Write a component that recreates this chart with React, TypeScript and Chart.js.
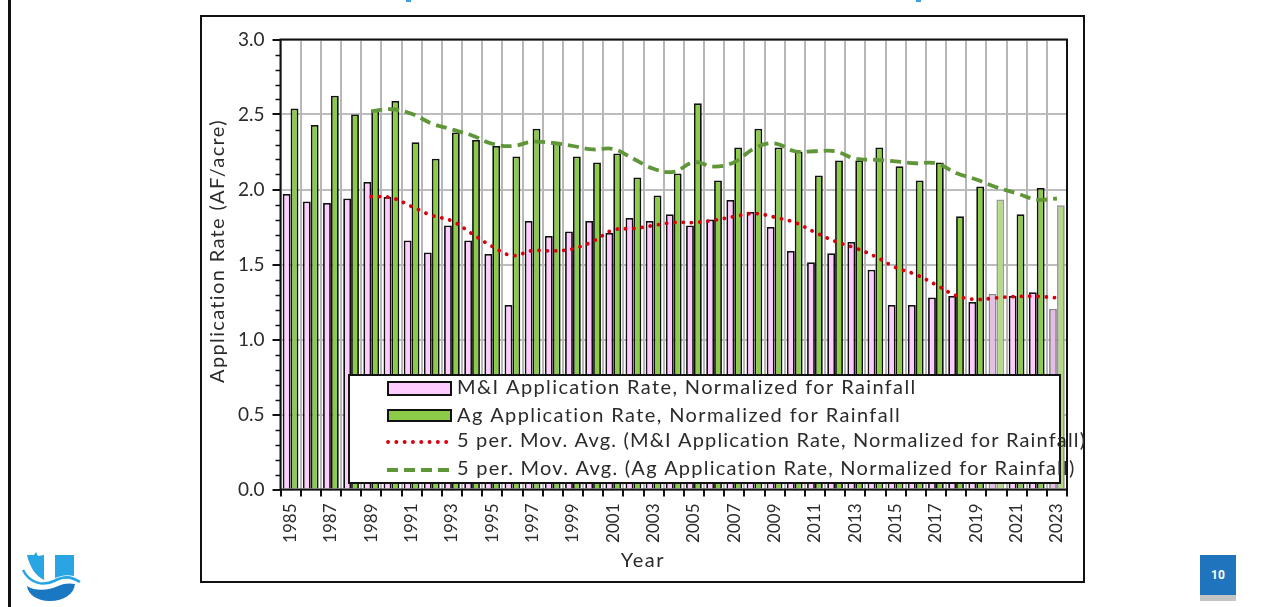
import React, { useEffect, useRef } from "react";
import { Chart, registerables } from "chart.js";

Chart.register(...registerables);

const years = [1985,1986,1987,1988,1989,1990,1991,1992,1993,1994,1995,1996,1997,1998,1999,2000,2001,2002,2003,2004,2005,2006,2007,2008,2009,2010,2011,2012,2013,2014,2015,2016,2017,2018,2019,2020,2021,2022,2023];
const miRate = [1.97,1.92,1.91,1.94,2.05,1.95,1.66,1.58,1.76,1.66,1.57,1.23,1.79,1.69,1.72,1.79,1.71,1.81,1.79,1.835,1.76,1.80,1.93,1.85,1.75,1.59,1.515,1.575,1.65,1.465,1.23,1.23,1.28,1.29,1.25,1.305,1.29,1.315,1.205];
const agRate = [2.54,2.43,2.625,2.50,2.53,2.59,2.315,2.205,2.38,2.33,2.29,2.22,2.405,2.315,2.22,2.18,2.24,2.08,1.96,2.107,2.575,2.06,2.28,2.405,2.28,2.253,2.093,2.193,2.193,2.28,2.155,2.06,2.18,1.822,2.02,1.933,1.835,2.01,1.895];
const miAvg = [null,null,null,null,1.953,1.945,1.887,1.827,1.79,1.705,1.62,1.56,1.593,1.59,1.605,1.655,1.73,1.74,1.76,1.78,1.78,1.795,1.82,1.84,1.815,1.78,1.715,1.655,1.61,1.553,1.48,1.433,1.365,1.293,1.267,1.278,1.287,1.287,1.278];
const agAvg = [null,null,null,null,2.522,2.535,2.505,2.44,2.40,2.36,2.305,2.29,2.318,2.31,2.29,2.267,2.27,2.205,2.138,2.118,2.182,2.153,2.182,2.275,2.308,2.255,2.255,2.255,2.205,2.198,2.187,2.175,2.175,2.11,2.067,2.015,1.975,1.933,1.94];
const fadedYears = [2020, 2023];
const labels = {
  mi: "M&I Application Rate, Normalized for Rainfall",
  ag: "Ag Application Rate, Normalized for Rainfall",
  miAvg: "5 per. Mov. Avg. (M&I Application Rate, Normalized for Rainfall)",
  agAvg: "5 per. Mov. Avg. (Ag Application Rate, Normalized for Rainfall)",
};
const yAxisTitle = "Application Rate (AF/acre)";
const xAxisTitle = "Year";
const pageNumber = "10";

const FONT = "Lato";
const TEXT = "#2b2b2b";
const PINK = "#ffccff";
const GREEN = "#8ccb47";
const RED = "#d8000f";
const DARKGREEN = "#5f9638";

const frameAndTicks = {
  id: "frameAndTicks",
  afterDatasetsDraw(chart: any) {
    const { ctx, chartArea: a, scales } = chart;
    ctx.save();
    ctx.strokeStyle = "#111";
    ctx.lineWidth = 2;
    ctx.strokeRect(a.left, a.top, a.right - a.left, a.bottom - a.top);
    ctx.lineWidth = 1.5;
    for (let v = 1; v < 30; v++) {
      if (v % 5 === 0) continue;
      const y = Math.round(scales.y.getPixelForValue(v / 10));
      ctx.beginPath();
      ctx.moveTo(a.left - 5, y + 0.5);
      ctx.lineTo(a.left, y + 0.5);
      ctx.stroke();
    }
    ctx.restore();
  },
};

const axisTitles = {
  id: "axisTitles",
  afterDraw(chart: any) {
    const { ctx } = chart;
    ctx.save();
    ctx.fillStyle = TEXT;
    ctx.font = `20px ${FONT}`;
    ctx.textAlign = "center";
    ctx.textBaseline = "middle";
    ctx.letterSpacing = "1.6px";
    ctx.fillText(xAxisTitle, 643, 561);
    ctx.letterSpacing = "1.35px";
    ctx.translate(218, 251);
    ctx.rotate(-Math.PI / 2);
    ctx.fillText(yAxisTitle, 0, 0);
    ctx.restore();
  },
};

const legendBox = {
  id: "legendBox",
  afterDraw(chart: any) {
    const { ctx } = chart;
    ctx.save();
    ctx.fillStyle = "#fff";
    ctx.fillRect(349, 375, 711, 108);
    ctx.strokeStyle = "#111";
    ctx.lineWidth = 2;
    ctx.strokeRect(349, 375, 711, 108);
    ctx.fillStyle = PINK;
    ctx.fillRect(388, 382, 63, 13);
    ctx.strokeRect(388, 382, 63, 13);
    ctx.fillStyle = GREEN;
    ctx.fillRect(388, 410, 63, 11);
    ctx.strokeRect(388, 410, 63, 11);
    ctx.lineCap = "round";
    ctx.strokeStyle = RED;
    ctx.lineWidth = 3.8;
    ctx.setLineDash([0.1, 8.2]);
    ctx.beginPath(); ctx.moveTo(388, 442); ctx.lineTo(451, 442); ctx.stroke();
    ctx.lineCap = "butt";
    ctx.strokeStyle = DARKGREEN;
    ctx.setLineDash([11, 6]);
    ctx.beginPath(); ctx.moveTo(387, 470); ctx.lineTo(451, 470); ctx.stroke();
    ctx.setLineDash([]);
    ctx.fillStyle = TEXT;
    ctx.font = `20px ${FONT}`;
    ctx.textBaseline = "alphabetic";
    ctx.letterSpacing = "1.38px";
    ctx.fillText(labels.mi, 457, 394);
    ctx.letterSpacing = "1.39px";
    ctx.fillText(labels.ag, 457, 422);
    ctx.letterSpacing = "1.16px";
    ctx.fillText(labels.miAvg, 457, 447);
    ctx.letterSpacing = "1.24px";
    ctx.fillText(labels.agAvg, 457, 475);
    ctx.restore();
  },
};

export default function App() {
  const ref = useRef<HTMLCanvasElement>(null);
  useEffect(() => {
    const isFaded = (i: number) => fadedYears.includes(years[i]);
    const chart = new Chart(ref.current!, {
      type: "bar",
      data: {
        labels: years.map(String),
        datasets: [
          { type: "line", label: labels.miAvg, data: miAvg, order: 0, borderColor: RED, borderWidth: 3.8, borderDash: [0.1, 8.2], borderCapStyle: "round", pointRadius: 0, tension: 0.4, fill: false },
          { type: "line", label: labels.agAvg, data: agAvg, order: 1, borderColor: DARKGREEN, borderWidth: 3.8, borderDash: [11, 6], pointRadius: 0, tension: 0.4, fill: false },
          { label: labels.mi, data: miRate, order: 2, backgroundColor: years.map((_, i) => (isFaded(i) ? "#e6bde6" : PINK)), borderColor: years.map((_, i) => (isFaded(i) ? "#8a8a8a" : "#111")), borderWidth: 1.8, barPercentage: 1, categoryPercentage: 0.78 },
          { label: labels.ag, data: agRate, order: 3, backgroundColor: years.map((_, i) => (isFaded(i) ? "#b2db82" : GREEN)), borderColor: years.map((_, i) => (isFaded(i) ? "#9a9a9a" : "#111")), borderWidth: 1.8, barPercentage: 1, categoryPercentage: 0.78 },
        ],
      } as any,
      options: {
        animation: false,
        responsive: false,
        layout: { padding: { left: 200, right: 210, top: 39.5, bottom: 24.5 } },
        plugins: { legend: { display: false }, tooltip: { enabled: false } },
        scales: {
          x: {
            afterFit(s: any) { s.height = 93; },
            grid: { color: "#b7b7b7", lineWidth: 2, tickColor: "#111", tickLength: 7, offset: true, z: 0 },
            border: { display: false },
            ticks: {
              autoSkip: false, minRotation: 90, maxRotation: 90, padding: 7,
              color: TEXT, font: { family: FONT, size: 17 },
              callback(_: any, i: number) { return i % 2 === 0 ? years[i] : ""; },
            },
          },
          y: {
            min: 0, max: 3,
            afterFit(s: any) { s.width = 80.5; },
            grid: { color: "#bdbdbd", lineWidth: 2, tickColor: "#111", tickLength: 8 },
            border: { display: false },
            ticks: { stepSize: 0.5, padding: 8, color: TEXT, font: { family: FONT, size: 19 }, callback: (v: any) => Number(v).toFixed(1) },
          },
        },
      },
      plugins: [frameAndTicks, axisTitles, legendBox],
    } as any);
    return () => chart.destroy();
  }, []);

  return (
    <div style={{ position: "absolute", left: 0, top: 0, width: 1277, height: 607, overflow: "hidden", background: "#fff" }}>
      <div style={{ position: "absolute", left: 8, top: 0, width: 2.5, height: 607, background: "#111" }} />
      <div style={{ position: "absolute", left: 200, top: 15, width: 881, height: 564, border: "2px solid #111" }} />
      <canvas ref={ref} width={1277} height={607} style={{ position: "absolute", left: 0, top: 0, filter: "blur(0.4px)" }} />
      <svg style={{ position: "absolute", left: 20, top: 550 }} width={64} height={52} viewBox="0 0 64 52">
        <path d="M7 5 H14 L16 2 L18 6 L24 5 V30 C16 26 10 18 7 5Z" fill="#2aa5e3" />
        <path d="M35 5 H54 V26 C46 24 40 26 35 28Z" fill="#2aa5e3" />
        <path d="M3 20 C10 34 24 36 34 31 C44 26 50 26 60 32" fill="none" stroke="#2aa5e3" strokeWidth={2.6} />
        <path d="M7 36 C16 42 30 40 38 36 C44 33 50 33 55 34 C54 44 44 51 30 51 C16 51 8 44 7 36Z" fill="#1a78c2" />
      </svg>
      <div style={{ position: "absolute", left: 1200, top: 555, width: 36, height: 40, background: "#1f74bd", color: "#fff", font: "bold 12px Roboto", display: "flex", alignItems: "center", justifyContent: "center" }}>{pageNumber}</div>
      <div style={{ position: "absolute", left: 1200, top: 595, width: 36, height: 6, background: "#c4c4c4" }} />
      <div style={{ position: "absolute", left: 406, top: 0, width: 5, height: 1.5, background: "#3aa0e8" }} />
      <div style={{ position: "absolute", left: 916, top: 0, width: 5, height: 1.5, background: "#3aa0e8" }} />
    </div>
  );
}
